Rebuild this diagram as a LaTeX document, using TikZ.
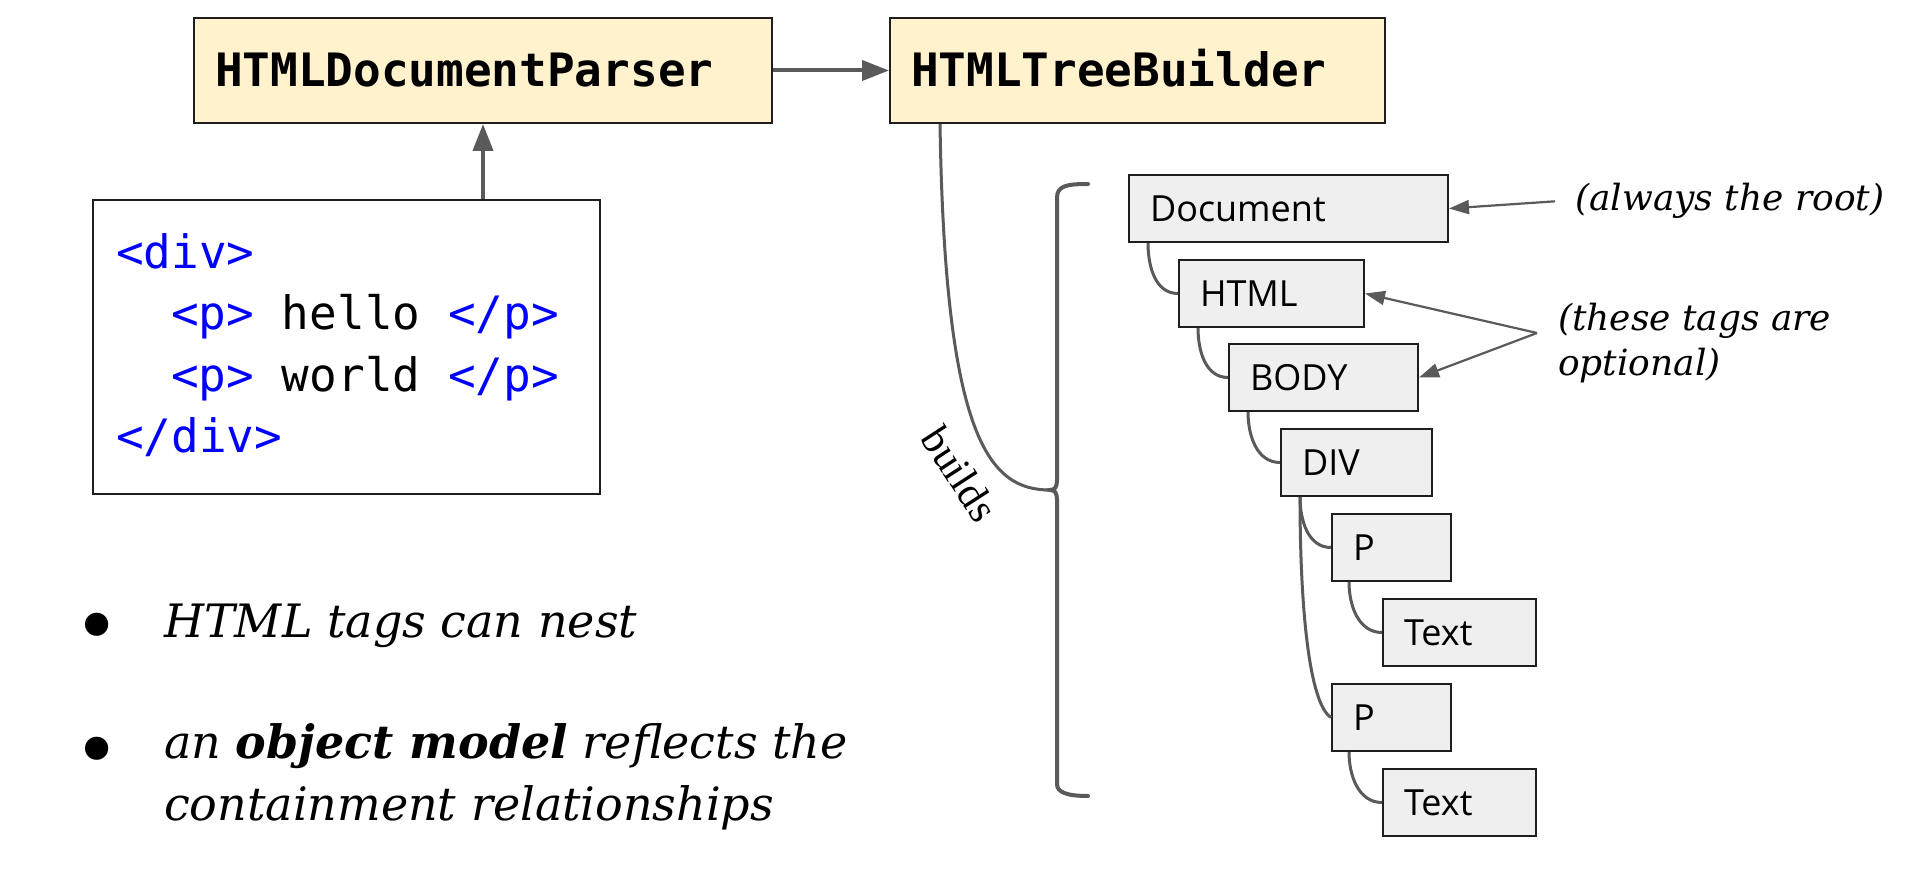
\documentclass[tikz,border=0pt]{standalone}
\usepackage{fontspec}
\usetikzlibrary{arrows.meta}
\newfontfamily\monoF{DejaVu Sans Mono}
\newfontfamily\treeF{Open Sans}
\newfontfamily\serifF{DejaVu Serif}
\newfontfamily\buildsF{Liberation Serif}
\definecolor{hdrfill}{RGB}{255,242,204}
\definecolor{treefill}{RGB}{239,239,239}
\definecolor{linegray}{RGB}{90,90,90}
\definecolor{boxline}{RGB}{30,30,30}
\definecolor{tagblue}{RGB}{0,0,255}
\begin{document}
\begin{tikzpicture}[x=1pt,y=-1pt,
  hdrbox/.style={draw=boxline, line width=2pt, fill=hdrfill, anchor=north west,
    minimum height=105pt, inner xsep=21pt, inner ysep=0pt, align=left,
    text height=33pt, text depth=0pt,
    font=\monoF\bfseries\fontsize{46}{50}\selectfont},
  treebox/.style={draw=boxline, line width=2pt, fill=treefill, anchor=north west,
    minimum height=67pt, inner xsep=21pt, inner ysep=0pt, align=left,
    text height=26pt, text depth=0pt,
    font=\treeF\fontsize{36}{40}\selectfont},
  codeline/.style={anchor=base west, inner sep=0pt, font=\monoF\fontsize{46}{50}\selectfont},
  flow/.style={draw=linegray, line width=4pt, -{Triangle[length=27pt,width=20pt]}},
  tconn/.style={draw=linegray, line width=3pt},
  ann/.style={draw=linegray, line width=2.2pt, -{Triangle[length=20pt,width=14pt]}},
  anntext/.style={font=\serifF\itshape\fontsize{36}{45}\selectfont, align=left, inner sep=0pt},
  bullettext/.style={anchor=base west, inner sep=0pt, font=\serifF\itshape\fontsize{46}{62}\selectfont},
  bulletmark/.style={anchor=base, inner sep=0pt, font=\serifF\fontsize{80}{80}\selectfont},
]
\fill[white] (0,0) rectangle (1920,890);
\useasboundingbox (0,0) rectangle (1920,890);

% header boxes
\node[hdrbox, text width=536pt] (parser) at (193,17) {HTMLDocumentParser};
\node[hdrbox, text width=453pt] (builder) at (889,17) {HTMLTreeBuilder};

% code box
\node[draw=boxline, line width=2pt, anchor=north west, minimum width=507pt,
      minimum height=294pt, inner sep=0pt] (codebox) at (92,199) {};
\node[codeline] (c1) at (116,269) {\textcolor{tagblue}{<div>}};
\node[codeline] (c2) at (171,330) {\textcolor{tagblue}{<p>} hello \textcolor{tagblue}{</p>}};
\node[codeline] (c3) at (171,392) {\textcolor{tagblue}{<p>} world \textcolor{tagblue}{</p>}};
\node[codeline] (c4) at (116,453) {\textcolor{tagblue}{</div>}};

\draw[flow] (parser.east) -- (builder.west);
\draw[flow] (codebox.north -| parser.south) -- (parser.south);

% tree
\node[treebox, text width=277pt] (doc)  at (1128,174) {Document};
\node[treebox, text width=143pt] (html) at (1178,259) {HTML};
\node[treebox, text width=147pt] (body) at (1228,343) {BODY};
\node[treebox, text width=109pt] (div)  at (1280,428) {DIV};
\node[treebox, text width=77pt]  (p1)   at (1331,513) {P};
\node[treebox, text width=111pt] (t1)   at (1382,598) {Text};
\node[treebox, text width=77pt]  (p2)   at (1331,683) {P};
\node[treebox, text width=111pt] (t2)   at (1382,768) {Text};

\draw[tconn] ([xshift=20pt]doc.south west) to[out=-90,in=180] (html.west);
\draw[tconn] ([xshift=20pt]html.south west) to[out=-90,in=180] (body.west);
\draw[tconn] ([xshift=20pt]body.south west) to[out=-90,in=180] (div.west);
\draw[tconn] ([xshift=20pt]div.south west) to[out=-90,in=180] (p1.west);
\draw[tconn] ([xshift=20pt]div.south west) .. controls +(0,110) and +(-22,-14) .. (p2.west);
\draw[tconn] ([xshift=18pt]p1.south west) to[out=-90,in=180] (t1.west);
\draw[tconn] ([xshift=18pt]p2.south west) to[out=-90,in=180] (t2.west);

% brace and builds
\coordinate (tip) at (1050,490);
\draw[linegray, line width=4pt, line cap=round]
  (1088,184) .. controls (1066,184) and (1057,186) .. (1057,198)
  -- (1057,480) .. controls (1057,487) and (1055,490) .. (tip)
  .. controls (1055,490) and (1057,493) .. (1057,500)
  -- (1057,784) .. controls (1057,792) and (1066,796) .. (1088,796);
\draw[tconn] (builder.south west) ++(51,0) .. controls +(5,317) and (990,490) .. (tip);
\node[font=\buildsF\fontsize{42}{46}\selectfont, rotate=-57] (buildslbl) at (960,474) {builds};

% annotations
\node[anntext, anchor=base west] (rootlbl) at (1575,211) {(always the root)};
\draw[ann] ([xshift=-20pt]rootlbl.west) -- (doc.east);
\node[anntext, anchor=west] (optlbl) at (1558,343) {(these tags are\\optional)};
\coordinate (junc) at ([xshift=-21pt,yshift=10pt]optlbl.west);
\draw[ann] (junc) -- (html.east);
\draw[ann] (junc) -- (body.east);

% bullets
\node[bulletmark] (m1) at (97,654) {•};
\node[bulletmark] (m2) at (97,778) {•};
\node[bullettext] (bt1) at (164,637) {HTML tags can nest};
\node[bullettext] (bt2) at (164,758) {an \textbf{object model} reflects the};
\node[bullettext] (bt3) at (164,820) {containment relationships};
\end{tikzpicture}
\end{document}
